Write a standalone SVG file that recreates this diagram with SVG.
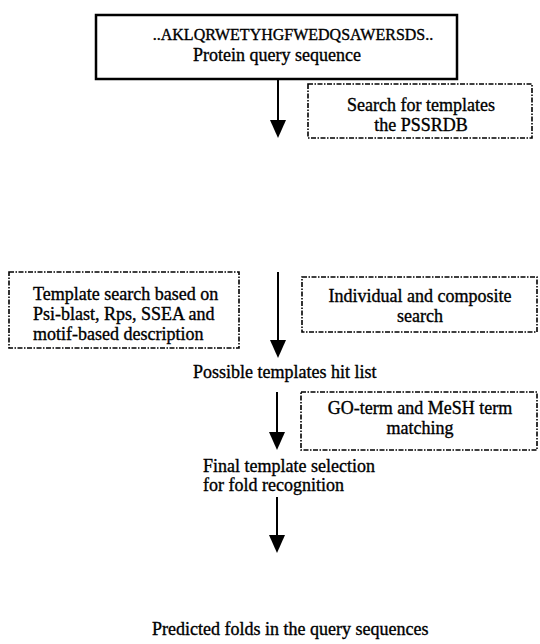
<svg xmlns="http://www.w3.org/2000/svg" width="540" height="644" viewBox="0 0 540 644">
<style>
text{font-family:"Liberation Serif","Times New Roman",serif;font-size:18px;fill:#000;stroke:#000;stroke-width:0.35}
.c{text-anchor:middle}
.solid{fill:#fff;stroke:#000;stroke-width:2.5}
.dash{fill:#fff;stroke:#000;stroke-width:1.6;stroke-dasharray:5 1.5 1.5 1.5}
.ln{stroke:#000;stroke-width:2;fill:none}
.head{fill:#000}
</style>
<rect width="540" height="644" fill="#fff"/>
<g id="connectors">
<path class="ln" d="M278,79 V122"/><polygon class="head" points="270,120 286,120 278,138"/>
<path class="ln" d="M278,272 V342"/><polygon class="head" points="270,340 286,340 278,358"/>
<path class="ln" d="M277,392 V434"/><polygon class="head" points="269,432 285,432 277,450"/>
<path class="ln" d="M277,497 V537"/><polygon class="head" points="269,535 285,535 277,553"/>
</g>
<g id="query">
<rect class="solid" x="96" y="15" width="361" height="64"/>
<text class="c" x="293" y="40" style="font-size:16px">..AKLQRWETYHGFWEDQSAWERSDS..</text>
<text class="c" x="277" y="61">Protein query sequence</text>
</g>
<g id="search-pssrdb">
<rect class="dash" x="308" y="84" width="224" height="54"/>
<text class="c" x="421" y="111">Search for templates</text>
<text class="c" x="421" y="131">the PSSRDB</text>
</g>
<g id="template-search">
<rect class="dash" x="9" y="272" width="230" height="76"/>
<text x="33" y="300">Template search based on</text>
<text x="33" y="320">Psi-blast, Rps, SSEA and</text>
<text x="33" y="340">motif-based description</text>
</g>
<g id="individual">
<rect class="dash" x="302" y="277" width="235" height="55"/>
<text class="c" x="420" y="302">Individual and composite</text>
<text class="c" x="420" y="322">search</text>
</g>
<g id="hit-list">
<text x="193" y="378">Possible templates hit list</text>
</g>
<g id="go-mesh">
<rect class="dash" x="301" y="392" width="236" height="58"/>
<text class="c" x="420" y="414">GO-term and MeSH term</text>
<text class="c" x="420" y="434">matching</text>
</g>
<g id="final-selection">
<text x="203" y="472">Final template selection</text>
<text x="203" y="491">for fold recognition</text>
</g>
<g id="predicted">
<text x="152" y="635">Predicted folds in the query sequences</text>
</g>
</svg>
